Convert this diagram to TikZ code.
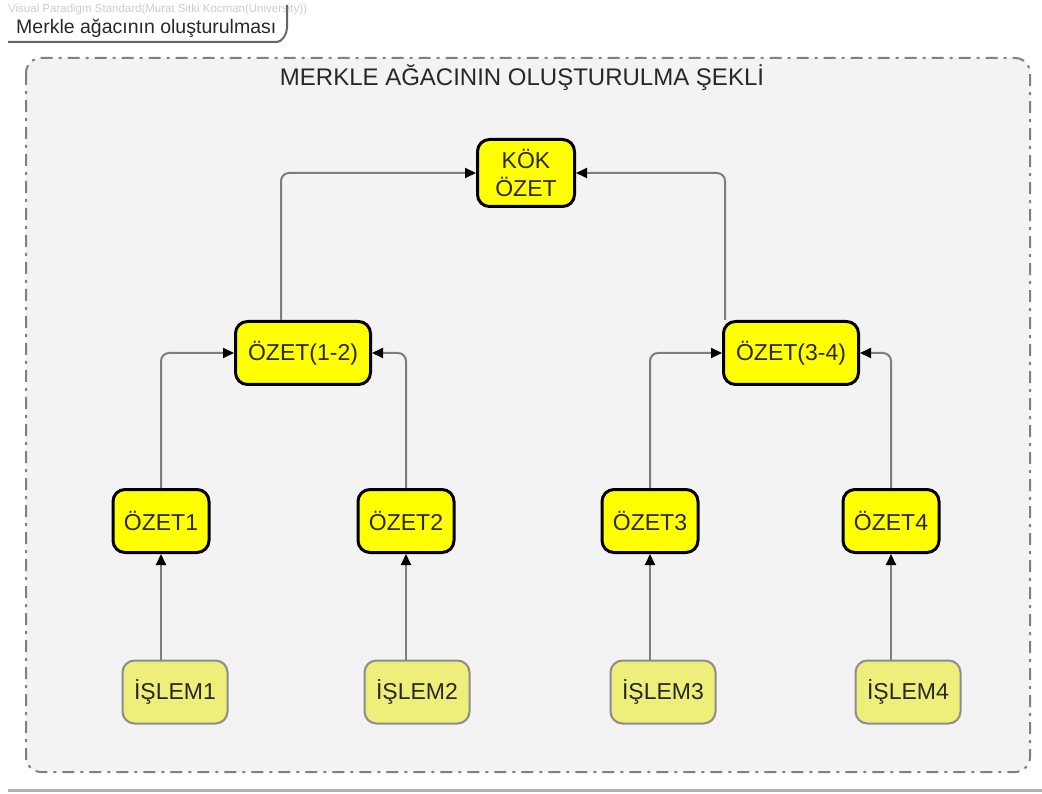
\documentclass[tikz,border=0pt]{standalone}
\usepackage{fontspec}
\setmainfont{Liberation Sans}
\usetikzlibrary{arrows.meta}

\definecolor{framebg}{RGB}{243,243,243}
\definecolor{framegray}{RGB}{128,128,128}
\definecolor{ozetyellow}{RGB}{255,255,0}
\definecolor{islemyellow}{RGB}{238,238,122}
\definecolor{linkgray}{RGB}{125,125,125}
\definecolor{textdark}{RGB}{40,40,40}

\tikzset{
  ozetbox/.style={draw=black, line width=3pt, fill=ozetyellow, rounded corners=12pt,
    inner sep=0pt, align=center, text=textdark, font=\fontsize{23}{28}\selectfont},
  islembox/.style={draw=gray!90, line width=2pt, fill=islemyellow, rounded corners=12pt,
    inner sep=0pt, text=textdark, font=\fontsize{23}{28}\selectfont,
    minimum width=105pt, minimum height=63pt},
  link/.style={draw=linkgray, line width=2pt, rounded corners=8pt,
    -{Triangle[length=11pt,width=10pt,color=black]}}
}

\begin{document}
\begin{tikzpicture}[x=1pt,y=-1pt]
  \useasboundingbox (0,0) rectangle (1042,794);

  % header tab
  \node[anchor=west, inner sep=0pt, text=gray!40, font=\fontsize{11.5}{13}\selectfont] (watermark) at (8,10) {Visual Paradigm Standard(Murat Sitki Kocman(University))};
  \node[anchor=west, inner sep=0pt, text=textdark, font=\fontsize{19.5}{24}\selectfont] (framelabel) at (16,28) {Merkle ağacının oluşturulması};
  \draw[gray!80!black, line width=2pt] (8,42) -- (277,42) .. controls (282,42) and (287,34) .. (287,28) -- (287,5);

  % frame
  \draw[framegray, line width=2pt, fill=framebg, rounded corners=15pt,
    dash pattern=on 12pt off 6pt on 3pt off 6pt] (26,58) rectangle (1030,772);
  \node[text=textdark, font=\fontsize{24}{28}\selectfont] (title) at (522,78) {MERKLE AĞACININ OLUŞTURULMA ŞEKLİ};

  % root
  \node[ozetbox, minimum width=97pt, minimum height=67pt] (kok) at (526,173) {KÖK\\ÖZET};

  % middle level
  \node[ozetbox, minimum width=135pt, minimum height=63pt] (ozet12) at (303,353) {ÖZET(1-2)};
  \node[ozetbox, minimum width=135pt, minimum height=63pt] (ozet34) at (791,353) {ÖZET(3-4)};

  % leaf hashes
  \node[ozetbox, minimum width=96pt, minimum height=63pt] (ozet1) at (161,521) {ÖZET1};
  \node[ozetbox, minimum width=96pt, minimum height=63pt] (ozet2) at (406,521) {ÖZET2};
  \node[ozetbox, minimum width=96pt, minimum height=63pt] (ozet3) at (650,521) {ÖZET3};
  \node[ozetbox, minimum width=96pt, minimum height=63pt] (ozet4) at (891,521) {ÖZET4};

  % transactions
  \node[islembox] (islem1) at (175,692) {İŞLEM1};
  \node[islembox] (islem2) at (417,692) {İŞLEM2};
  \node[islembox] (islem3) at (663,692) {İŞLEM3};
  \node[islembox] (islem4) at (908,692) {İŞLEM4};

  % links
  \draw[link] (ozet1.south |- islem1.north) -- (ozet1.south);
  \draw[link] (ozet2.south |- islem2.north) -- (ozet2.south);
  \draw[link] (ozet3.south |- islem3.north) -- (ozet3.south);
  \draw[link] (ozet4.south |- islem4.north) -- (ozet4.south);

  \draw[link] (ozet1.north) |- (ozet12.west);
  \draw[link] (ozet2.north) |- (ozet12.east);
  \draw[link] (ozet3.north) |- (ozet34.west);
  \draw[link] (ozet4.north) |- (ozet34.east);

  \draw[link] ([xshift=-22pt]ozet12.north) |- (kok.west);
  \draw[link] ([xshift=-66pt]ozet34.north) |- (kok.east);

  % bottom rule
  \draw[gray!60, line width=3pt] (8,790) -- (1042,790);
\end{tikzpicture}
\end{document}
